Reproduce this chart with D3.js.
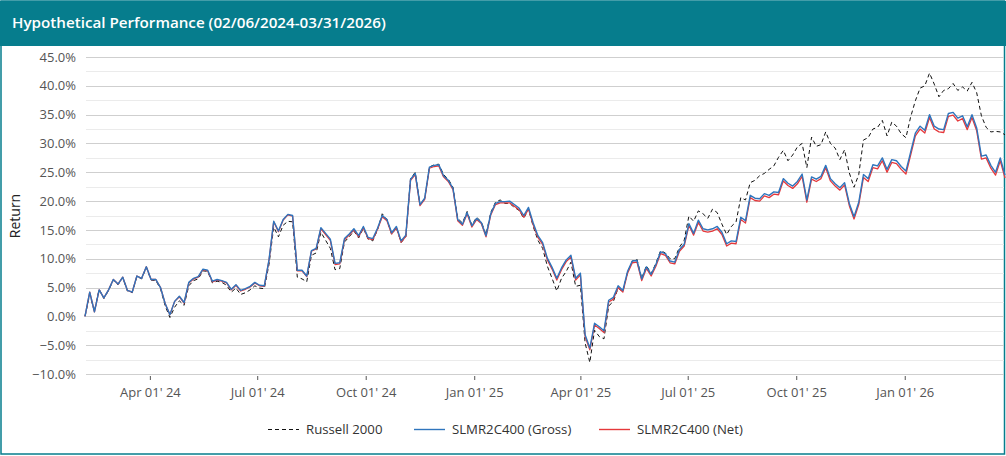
<!DOCTYPE html>
<html>
<head>
<meta charset="utf-8">
<script src="https://cdn.jsdelivr.net/npm/d3@7"></script>
<style>
  html, body { margin: 0; padding: 0; background: #fff; }
  svg { display: block; font-family: "Open Sans", "Noto Sans", sans-serif; }
</style>
</head>
<body>
<svg id="chart" width="1006" height="456"></svg>
<script>
// ---------- DATA ----------
const title = "Hypothetical Performance (02/06/2024-03/31/2026)";
const startDate = "2024-02-06";
const endDate = "2026-03-27";
const stepDays = 4; // observation spacing (calendar days)

const seriesNames = ["Russell 2000", "SLMR2C400 (Gross)", "SLMR2C400 (Net)"];

const russell = [
 0.0,3.8,0.9,4.7,3.1,4.5,6.3,5.5,6.7,4.4,4.1,6.9,6.5,8.5,6.3,6.2,4.8,1.8,-0.2,1.6,
 2.7,1.9,5.3,6.2,6.5,7.9,7.8,5.8,6.1,5.9,5.4,4.2,4.9,3.8,4.1,4.6,5.3,4.9,4.8,9.0,
 15.5,13.8,15.8,16.5,16.4,6.8,6.5,6.0,10.6,11.0,14.6,13.2,11.8,8.1,8.3,12.9,13.8,14.8,13.6,15.3,
 13.4,13.1,15.0,17.8,16.8,14.2,15.4,12.8,13.8,23.9,25.0,19.4,20.5,25.9,26.3,26.4,24.6,23.8,22.4,17.0,
 16.2,18.2,15.8,17.2,16.4,14.2,18.0,19.8,20.2,19.6,19.6,18.9,18.4,17.0,18.6,15.6,13.2,11.8,8.7,6.6,
 4.4,6.6,7.8,9.4,5.2,5.4,-4.6,-8.0,-2.4,-3.5,-3.9,1.8,2.6,4.9,4.3,7.7,9.6,9.9,6.6,8.8,
 7.4,9.2,11.4,11.0,10.0,10.0,12.0,13.2,17.4,16.5,18.3,17.8,17.0,18.6,18.0,16.0,14.2,15.6,16.4,20.6,
 20.2,23.2,23.6,24.4,24.8,25.5,26.1,27.6,28.8,27.0,28.0,29.4,30.0,25.8,31.1,29.5,29.8,32.0,30.0,29.2,
 27.2,28.9,24.9,22.4,24.6,30.6,31.0,32.5,32.8,34.0,31.3,33.7,33.0,31.7,31.0,34.6,37.4,39.6,40.0,42.2,
 40.3,38.1,39.2,39.5,40.4,39.2,39.8,39.1,40.6,38.8,34.8,32.8,32.0,32.1,32.0,31.5
];

const gross = [
 0.0,4.2,0.8,4.6,3.2,4.6,6.4,5.6,6.8,4.5,4.2,7.0,6.6,8.6,6.4,6.4,5.0,2.2,0.3,2.6,
 3.5,2.4,5.9,6.6,6.9,8.2,8.0,6.1,6.4,6.2,5.9,4.7,5.5,4.5,4.8,5.2,5.9,5.4,5.3,9.8,
 16.5,14.8,16.8,17.7,17.5,8.0,8.0,7.0,11.4,11.8,15.4,14.4,13.4,9.2,9.3,13.5,14.3,15.2,14.0,15.6,
 13.7,13.5,15.3,17.5,16.8,14.5,15.6,13.1,14.1,23.8,24.8,19.4,20.5,25.9,26.2,26.3,24.4,23.6,22.2,16.8,
 16.0,18.0,15.7,17.0,16.3,14.0,17.8,19.6,19.9,19.9,20.0,19.4,18.8,17.5,18.9,16.2,14.0,12.8,10.1,8.5,
 6.6,8.4,9.8,10.6,6.6,7.5,-3.2,-5.5,-1.2,-1.8,-2.5,2.8,3.3,5.3,4.5,7.8,9.6,9.7,6.5,8.6,
 7.3,9.0,11.2,10.9,9.6,9.4,11.6,12.5,16.1,14.4,16.7,15.2,15.0,15.2,15.6,14.6,12.6,13.1,13.0,17.2,
 16.6,21.0,20.5,20.4,21.3,21.0,21.6,21.5,23.9,23.1,22.6,23.4,24.7,20.2,24.2,23.8,24.3,26.2,23.9,23.0,
 22.3,23.2,19.6,17.3,19.8,24.6,23.9,26.3,26.1,27.5,25.5,27.2,27.0,26.0,25.2,28.5,31.8,33.0,32.3,35.0,
 33.0,32.5,32.4,35.2,35.4,34.4,34.8,32.9,35.0,32.7,27.8,28.0,26.2,25.0,27.5,24.5
];

const net = [
 0.0,4.2,0.8,4.6,3.2,4.6,6.4,5.6,6.8,4.5,4.2,7.0,6.6,8.6,6.4,6.4,5.0,2.2,0.3,2.6,
 3.4,2.3,5.8,6.5,6.8,8.1,7.9,6.0,6.3,6.1,5.8,4.6,5.4,4.4,4.7,5.1,5.8,5.3,5.2,9.7,
 16.4,14.7,16.7,17.6,17.4,7.9,7.9,6.9,11.3,11.7,15.2,14.2,13.2,9.0,9.1,13.3,14.1,15.0,13.8,15.4,
 13.5,13.3,15.1,17.3,16.6,14.3,15.4,12.9,13.9,23.6,24.6,19.2,20.3,25.7,26.0,26.1,24.2,23.4,22.0,16.6,
 15.8,17.8,15.5,16.8,16.1,13.8,17.6,19.4,19.7,19.7,19.7,19.1,18.5,17.2,18.6,15.9,13.7,12.5,9.8,8.2,
 6.3,8.1,9.5,10.3,6.3,7.2,-3.5,-5.8,-1.5,-2.1,-2.8,2.5,3.0,5.0,4.2,7.5,9.3,9.4,6.2,8.3,
 7.0,8.7,10.9,10.6,9.3,9.1,11.3,12.2,15.8,14.1,16.3,14.8,14.6,14.8,15.2,14.2,12.2,12.7,12.6,16.8,
 16.2,20.6,20.1,20.0,20.9,20.6,21.2,21.1,23.5,22.7,22.2,23.0,24.3,19.8,23.8,23.4,23.9,25.8,23.5,22.6,
 21.9,22.8,19.2,16.9,19.4,24.1,23.4,25.8,25.6,27.0,25.0,26.7,26.5,25.5,24.7,28.0,31.3,32.5,31.8,34.5,
 32.5,32.0,31.9,34.7,34.9,33.9,34.3,32.4,34.5,32.2,27.3,27.5,25.7,24.5,27.0,24.0
];

const yTickValues = [-10, -7.5, -5, -2.5, 0, 2.5, 5, 7.5, 10, 12.5, 15, 17.5, 20, 22.5, 25, 27.5, 30, 32.5, 35, 37.5, 40, 42.5, 45];
const xTickDates = ["2024-04-01", "2024-07-01", "2024-10-01", "2025-01-01", "2025-04-01", "2025-07-01", "2025-10-01", "2026-01-01"];
const yAxisTitle = "Return";

// ---------- LAYOUT ----------
const W = 1006, H = 456;
const teal = "#067d8d";
const plot = { left: 85, right: 1005, top: 57, bottom: 374 };
const colors = { russell: "#111111", gross: "#2f75bd", net: "#e5383b" };

const parse = d3.timeParse("%Y-%m-%d");
const start = parse(startDate), end = parse(endDate);
const dates = d3.timeDay.range(start, end, stepDays).concat([end]);

const svg = d3.select("#chart");

// card border + header
svg.append("rect").attr("x", 1).attr("y", 1).attr("width", W - 2.5).attr("height", H - 3)
  .attr("fill", "#fff").attr("stroke", teal).attr("stroke-width", 1.5);
svg.append("rect").attr("x", 0).attr("y", 1).attr("width", W).attr("height", 45).attr("fill", teal);
svg.append("text").attr("x", 12).attr("y", 28).attr("fill", "#fff")
  .attr("font-size", 15.2).attr("font-weight", 600).text(title);

const x = d3.scaleTime().domain([start, end]).range([plot.left, plot.right]);
const y = d3.scaleLinear().domain([-10, 45]).range([plot.bottom, plot.top]);

// gridlines
const gridG = svg.append("g");
gridG.selectAll("line").data(yTickValues).join("line")
  .attr("x1", plot.left + 1).attr("x2", plot.right - 1)
  .attr("y1", d => Math.round(y(d)) + 0.5).attr("y2", d => Math.round(y(d)) + 0.5)
  .attr("stroke", d => (d % 5 === 0) ? "#cfcfcf" : "#ebebeb")
  .attr("stroke-width", 1.2);

// y axis labels
const yAxis = d3.axisLeft(y).tickValues(yTickValues.filter(d => d % 5 === 0))
  .tickFormat(d => d3.format(".1f")(d) + "%").tickSize(0).tickPadding(0);
const yg = svg.append("g").attr("transform", `translate(${plot.left - 9},0)`).call(yAxis);
yg.select(".domain").remove();
yg.selectAll("text").attr("font-size", 13).attr("fill", "#555").attr("font-family", "Open Sans, sans-serif");

svg.append("text").attr("transform", `translate(20,216) rotate(-90)`)
  .attr("text-anchor", "middle").attr("font-size", 14).attr("fill", "#222").text(yAxisTitle);

// x axis
const xAxis = d3.axisBottom(x).tickValues(xTickDates.map(parse))
  .tickFormat(d3.timeFormat("%b %d' %y")).tickSize(4).tickPadding(8);
const xg = svg.append("g").attr("transform", `translate(0,${plot.bottom + 2})`).call(xAxis);
xg.select(".domain").remove();
xg.selectAll(".tick line").attr("stroke", "#555");
xg.selectAll("text").attr("font-size", 13).attr("fill", "#555").attr("font-family", "Open Sans, sans-serif");

// lines
const mk = vals => dates.map((d, i) => ({ d, v: vals[i] }));
const line = d3.line().x(p => x(p.d)).y(p => y(p.v));

svg.append("path").datum(mk(russell)).attr("d", line).attr("fill", "none")
  .attr("stroke", colors.russell).attr("stroke-width", 1).attr("stroke-dasharray", "4,3");
svg.append("path").datum(mk(net)).attr("d", line).attr("fill", "none")
  .attr("stroke", colors.net).attr("stroke-width", 1.3).attr("stroke-linejoin", "round");
svg.append("path").datum(mk(gross)).attr("d", line).attr("fill", "none")
  .attr("stroke", colors.gross).attr("stroke-width", 1.4).attr("stroke-linejoin", "round");

// legend
const legendItems = [
  { name: seriesNames[0], color: colors.russell, dash: "4,3", x: 268 },
  { name: seriesNames[1], color: colors.gross, dash: null, x: 414 },
  { name: seriesNames[2], color: colors.net, dash: null, x: 599 }
];
const lg = svg.append("g").attr("transform", "translate(0,429)");
legendItems.forEach(it => {
  lg.append("line").attr("x1", it.x).attr("x2", it.x + 31).attr("y1", 0.5).attr("y2", 0.5)
    .attr("stroke", it.color).attr("stroke-width", it.dash ? 1 : 1.4)
    .attr("stroke-dasharray", it.dash);
  lg.append("text").attr("x", it.x + 38).attr("y", 5).attr("font-size", 13.2)
    .attr("fill", "#333").text(it.name);
});
</script>
</body>
</html>
